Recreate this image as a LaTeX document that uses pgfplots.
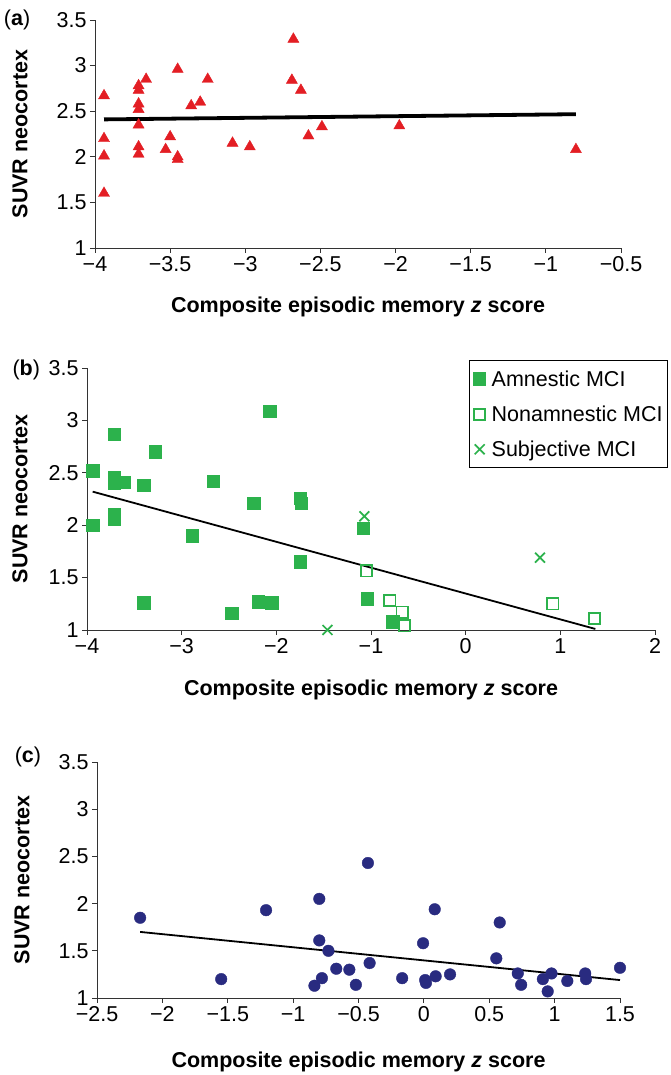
\documentclass[border=0pt]{standalone}
\usepackage{pgfplots}
\pgfplotsset{compat=1.18}
\usepackage{fontspec}
\setmainfont{Liberation Sans}
\definecolor{myred}{RGB}{227,30,36}
\definecolor{mygreen}{RGB}{44,178,76}
\definecolor{mynavy}{RGB}{41,43,128}
\newcommand{\fs}{\fontsize{21.5}{25}\selectfont}
\pgfplotsset{
  myaxis/.style={
    scale only axis,
    axis x line*=bottom, axis y line*=left,
    axis line style={-, line width=0.9pt, black!80},
    tick align=outside, major tick length=5pt,
    tick style={line width=0.9pt, black!80},
    ymin=1, ymax=3.5, ytick={1,1.5,2,2.5,3,3.5},
    yticklabels={1,1.5,2,2.5,3,3.5},
    /pgf/number format/assume math mode=true,
    tick label style={font=\fs},
    clip=false,
    xlabel={\bfseries Composite episodic memory \textit{z} score},
    ylabel={\bfseries SUVR neocortex},
    label style={font=\fs},
  },
}
\begin{document}
\begin{tikzpicture}
\useasboundingbox (0,0) rectangle (670pt,1075pt);
% ---------------- (a)
\begin{axis}[myaxis,
  at={(95pt,827pt)}, anchor=south west, width=526pt, height=228pt,
  xmin=-4, xmax=-0.5, xtick={-4,-3.5,-3,-2.5,-2,-1.5,-1,-0.5},
  xticklabels={−4,−3.5,−3,−2.5,−2,−1.5,−1,−0.5},
  x label style={at={(axis description cs:0.5,0)}, anchor=center, yshift=-59pt},
  y label style={at={(axis description cs:0,0.5)}, anchor=center, yshift=75pt},
]
\addplot[only marks, color=myred, mark=triangle*, mark size=6.4pt, mark options={fill=myred, draw=myred}] coordinates {
(-3.94,2.67) (-3.94,2.20) (-3.94,2.01) (-3.94,1.60)
(-3.71,2.78) (-3.71,2.73) (-3.71,2.58) (-3.71,2.52) (-3.71,2.35) (-3.71,2.11) (-3.71,2.03)
(-3.66,2.85) (-3.45,2.96) (-3.50,2.22) (-3.53,2.08) (-3.45,2.00) (-3.45,1.97)
(-3.36,2.56) (-3.30,2.60) (-3.25,2.85) (-3.085,2.15) (-2.97,2.11)
(-2.68,3.29) (-2.69,2.84) (-2.63,2.73) (-2.58,2.23) (-2.49,2.33)
(-1.975,2.34) (-0.80,2.08)
};
\addplot[black, line width=3.8pt] coordinates {(-3.94,2.41) (-0.80,2.467)};
\node[font=\fs, anchor=center] at (axis description cs:-0.148,1.0) {(\textbf{a})};
\end{axis}
% ---------------- (b)
\begin{axis}[myaxis,
  at={(87pt,445pt)}, anchor=south west, width=568pt, height=262pt,
  xmin=-4, xmax=2, xtick={-4,-3,-2,-1,0,1,2},
  xticklabels={−4,−3,−2,−1,0,1,2},
  x label style={at={(axis description cs:0.5,0)}, anchor=center, yshift=-60pt},
  y label style={at={(axis description cs:0,0.5)}, anchor=center, yshift=67pt},
  legend style={at={(1.023,1.03)}, anchor=north east, draw=black, line width=1pt,
    font=\fs, inner xsep=3pt, inner ysep=8pt, row sep=14pt,
    nodes={inner sep=2pt}, cells={anchor=west}},
  legend cell align=left,
  legend image code/.code={\path[draw=none, fill=none] (0pt,-0.1pt) rectangle (17pt,0.1pt);
    \draw[#1] plot coordinates {(7pt,0pt)};},
]
\addplot[black, line width=1.8pt, forget plot] coordinates {(-3.94,2.32) (1.37,1.01)};
\addplot[only marks, color=mygreen, mark=square*, mark size=6.2pt, mark options={fill=mygreen, draw=mygreen}] coordinates {
(-3.94,2.52) (-3.94,2.00) (-3.71,2.87) (-3.71,2.46) (-3.71,2.40) (-3.61,2.41) (-3.71,2.10) (-3.71,2.06)
(-3.40,2.38) (-3.40,1.26) (-3.28,2.70) (-2.89,1.90) (-2.67,2.42) (-2.47,1.16)
(-2.24,2.21) (-2.19,1.27) (-2.05,1.26) (-2.07,3.09)
(-1.75,2.26) (-1.74,2.21) (-1.75,1.65) (-1.08,1.97) (-1.04,1.30) (-0.77,1.08)
};
\addlegendentry{Amnestic MCI}
\addplot[only marks, color=mygreen, mark=square, mark size=5.6pt, mark options={fill=white, draw=mygreen, line width=1.7pt}] coordinates {
(-1.05,1.565) (-0.80,1.28) (-0.67,1.17) (-0.645,1.04) (0.92,1.25) (1.36,1.11)
};
\addlegendentry{Nonamnestic MCI}
\addplot[only marks, color=mygreen, mark=x, mark size=7pt, mark options={draw=mygreen, line width=1.7pt}] coordinates {
(-1.07,2.085) (-1.46,1.00) (0.785,1.69)
};
\addlegendentry{Subjective MCI}
\node[font=\fs, anchor=center] at (axis description cs:-0.107,0.992) {(\textbf{b})};
\end{axis}
% ---------------- (c)
\begin{axis}[myaxis,
  at={(97pt,77pt)}, anchor=south west, width=523pt, height=236pt,
  xmin=-2.5, xmax=1.5, xtick={-2.5,-2,-1.5,-1,-0.5,0,0.5,1,1.5},
  xticklabels={−2.5,−2,−1.5,−1,−0.5,0,0.5,1,1.5},
  x label style={at={(axis description cs:0.5,0)}, anchor=center, yshift=-64pt},
  y label style={at={(axis description cs:0,0.5)}, anchor=center, yshift=75pt},
]
\addplot[black, line width=1.8pt] coordinates {(-2.17,1.70) (1.50,1.19)};
\addplot[only marks, color=mynavy, mark=*, mark size=5.8pt, mark options={fill=mynavy, draw=mynavy}] coordinates {
(-2.17,1.85) (-1.55,1.20) (-1.207,1.93) (-0.80,2.05) (-0.80,1.61) (-0.73,1.50)
(-0.837,1.13) (-0.78,1.21) (-0.67,1.31) (-0.57,1.30) (-0.52,1.14) (-0.428,2.43)
(-0.415,1.37) (-0.166,1.21) (-0.006,1.58) (0.01,1.19) (0.016,1.16) (0.083,1.94)
(0.09,1.23) (0.20,1.25) (0.554,1.42) (0.58,1.80) (0.718,1.26) (0.744,1.14)
(0.91,1.20) (0.976,1.26) (0.947,1.07) (1.097,1.18) (1.234,1.26) (1.24,1.20) (1.50,1.32)
};
\node[font=\fs, anchor=center] at (axis description cs:-0.132,1.02) {(\textbf{c})};
\end{axis}
\end{tikzpicture}
\end{document}
